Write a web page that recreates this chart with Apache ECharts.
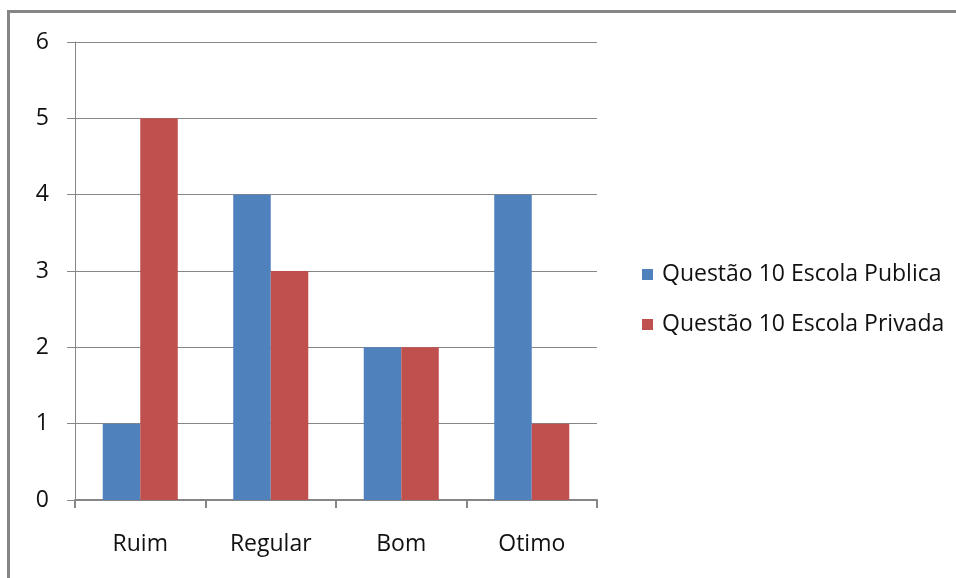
<!DOCTYPE html>
<html>
<head>
<meta charset="utf-8">
<script src="https://cdn.jsdelivr.net/npm/echarts@6/dist/echarts.min.js"></script>
<style>
  html, body { margin: 0; padding: 0; background: #fff; }
  #chart { width: 956px; height: 578px; }
</style>
</head>
<body>
<div id="chart"></div>
<script>
// Rating categories and response counts per school type
const categories = ['Ruim', 'Regular', 'Bom', 'Otimo'];
const publicSchool = [1, 4, 2, 4];
const privateSchool = [5, 3, 2, 1];
const seriesNames = ['Questão 10 Escola Publica', 'Questão 10 Escola Privada'];
const yTicks = { min: 0, max: 6, interval: 1 };

const font = 'Open Sans, Noto Sans, sans-serif';
const chart = echarts.init(document.getElementById('chart'));

chart.setOption({
  animation: false,
  backgroundColor: '#fff',
  // frame around the chart area (left and top edges)
  graphic: [
    { type: 'line', shape: { x1: 8.5, y1: 10, x2: 8.5, y2: 600 },
      style: { stroke: '#868686', lineWidth: 3 } },
    { type: 'line', shape: { x1: 7, y1: 11.5, x2: 980, y2: 11.5 },
      style: { stroke: '#868686', lineWidth: 3 } }
  ],
  grid: { left: 75, right: 359, top: 42, bottom: 78 },
  legend: {
    orient: 'vertical',
    left: 637,
    top: 258,
    itemWidth: 11,
    itemHeight: 11,
    itemGap: 27,
    icon: 'rect',
    textStyle: { fontFamily: font, fontSize: 23, lineHeight: 23, color: '#111', padding: [0, 0, 0, 4] },
    data: seriesNames
  },
  xAxis: {
    type: 'category',
    data: categories,
    axisLine: { lineStyle: { color: '#868686', width: 2 } },
    axisTick: { show: true, length: 8, lineStyle: { color: '#868686', width: 2 } },
    axisLabel: { fontFamily: font, fontSize: 23, color: '#111', margin: 33 }
  },
  yAxis: {
    type: 'value',
    min: yTicks.min,
    max: yTicks.max,
    interval: yTicks.interval,
    axisLine: { show: true, lineStyle: { color: '#868686', width: 1 } },
    axisTick: { show: true, length: 8, lineStyle: { color: '#868686' } },
    axisLabel: { fontFamily: font, fontSize: 23, color: '#111', margin: 26 },
    splitLine: { lineStyle: { color: '#868686', width: 1 } }
  },
  series: [
    {
      name: seriesNames[0],
      type: 'bar',
      data: publicSchool,
      itemStyle: { color: '#4F81BD' },
      barGap: '0%',
      barCategoryGap: '42.5%'
    },
    {
      name: seriesNames[1],
      type: 'bar',
      data: privateSchool,
      itemStyle: { color: '#C0504D' },
      barGap: '0%',
      barCategoryGap: '42.5%'
    }
  ]
});
</script>
</body>
</html>
